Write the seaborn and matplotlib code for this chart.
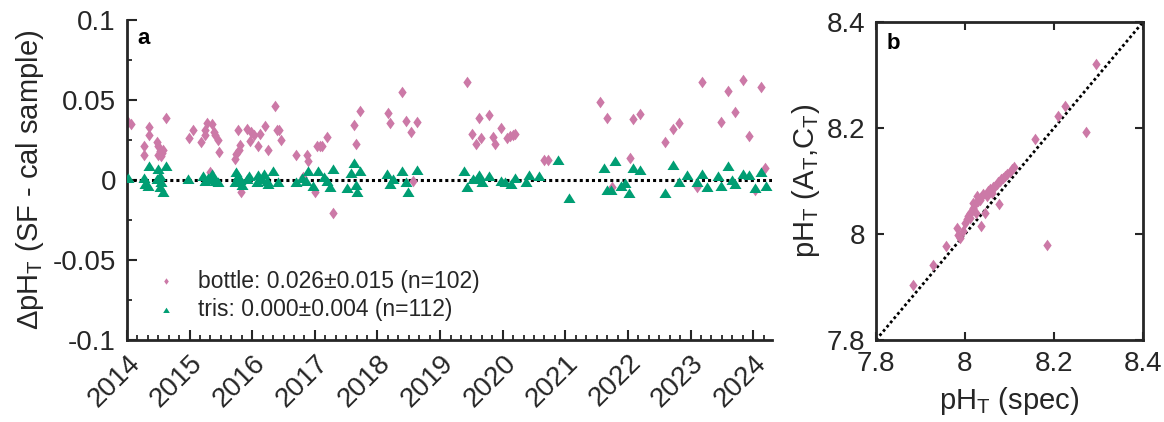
import numpy as np
import pandas as pd
import matplotlib
matplotlib.use("Agg")
import matplotlib.pyplot as plt
from matplotlib.ticker import MultipleLocator, FixedLocator
import seaborn as sns

# ---------------- data ----------------
bottle_year = [2014.010, 2014.061, 2014.264, 2014.274, 2014.345, 2014.356, 2014.478, 2014.498,
               2014.528, 2014.500, 2014.559, 2014.579, 2014.538, 2014.620, 2014.996, 2015.057,
               2015.189, 2015.240, 2015.250, 2015.270, 2015.361, 2015.382, 2015.402, 2015.453,
               2015.473, 2015.321, 2015.717, 2015.748, 2015.788, 2015.808, 2015.778, 2015.819,
               2015.910, 2015.981, 2015.961, 2016.032, 2016.093, 2016.123, 2016.205, 2016.245,
               2016.357, 2016.388, 2016.428, 2016.459, 2016.692, 2016.875, 2016.885, 2016.814,
               2016.997, 2017.028, 2017.078, 2017.119, 2017.200, 2017.292,
               2017.627, 2017.658, 2017.719, 2018.166, 2018.206, 2018.399, 2018.460, 2018.531,
               2018.633, 2018.562, 2019.436, 2019.517, 2019.578, 2019.629, 2019.659, 2019.781,
               2019.842, 2019.883, 2019.974, 2020.066, 2020.116, 2020.157, 2020.198, 2020.655,
               2020.726,
               2021.559, 2021.661, 2022.037, 2021.742, 2022.077, 2022.189, 2022.595, 2022.727,
               2022.809, 2023.185, 2023.103, 2023.489, 2023.601, 2023.703, 2023.835, 2023.926,
               2024.119, 2024.028, 2024.190]
bottle_dph = [0.0365, 0.0350, 0.0210, 0.0156, 0.0330, 0.0280, 0.0235, 0.0210,
              0.0180, 0.0156, 0.0170, 0.0190, 0.0150, 0.0390, 0.0260, 0.0310,
              0.0240, 0.0280, 0.0310, 0.0356, 0.0350, 0.0300, 0.0280, 0.0250,
              0.0177, 0.0052, 0.0130, 0.0160, 0.0190, 0.0220, 0.0310, -0.0077,
              0.0320, 0.0300, 0.0246, 0.0280, 0.0215, 0.0290, 0.0340, 0.0190,
              0.0460, 0.0310, 0.0315, 0.0250, 0.0156, 0.0156, 0.0120, 0.0017,
              -0.0077, 0.0210, 0.0210, 0.0210, 0.0270, -0.0206,
              0.0344, 0.0225, 0.0433, 0.0419, 0.0354, 0.0552, 0.0367, 0.0298,
              0.0360, -0.0004, 0.0615, 0.0288, 0.0225, 0.0385, 0.0260, 0.0406,
              0.0267, 0.0225, 0.0323, 0.0260, 0.0273, 0.0280, 0.0290, 0.0127,
              0.0127,
              0.0490, 0.0385, 0.0138, -0.0046, 0.0381, 0.0413, 0.0235, 0.0319,
              0.0356, 0.0615, -0.0046, 0.0360, 0.0558, 0.0423, 0.0627, 0.0273,
              0.0579, -0.0060, 0.0073]

tris_year = [2014.020, 2014.264, 2014.284, 2014.335, 2014.345, 2014.478, 2014.498, 2014.528,
             2014.538, 2014.528, 2014.579, 2014.620, 2014.975, 2015.219, 2015.250, 2015.290,
             2015.361, 2015.382, 2015.412, 2015.453, 2015.748, 2015.778, 2015.727, 2015.808,
             2015.829, 2015.910, 2015.951, 2016.073, 2016.093, 2016.154, 2016.195, 2016.235,
             2016.256, 2016.337, 2016.418, 2016.692, 2016.794, 2016.855, 2016.896, 2016.977,
             2017.048, 2017.139, 2017.190, 2017.241, 2017.292,
             2017.515, 2017.576, 2017.627, 2017.658, 2017.668, 2017.719, 2018.155, 2018.206,
             2018.247, 2018.399, 2018.460, 2018.491, 2018.633, 2019.375, 2019.425, 2019.527,
             2019.588, 2019.629, 2019.669, 2019.781, 2019.974, 2020.035, 2020.126, 2020.198,
             2020.370, 2020.421, 2020.584, 2020.878,
             2021.061, 2021.620, 2021.793, 2021.661, 2021.732, 2021.884, 2021.955, 2022.016,
             2022.077, 2022.189, 2022.595, 2022.717, 2022.809, 2022.941, 2023.103, 2023.185,
             2023.266, 2023.439, 2023.489, 2023.601, 2023.662, 2023.713, 2023.835, 2023.926,
             2024.028, 2024.119, 2024.201]
tris_dph = [0.0010, 0.0010, -0.0025, -0.0035, 0.0090, 0.0006, 0.0069, 0.0027,
            -0.0015, -0.0046, -0.0077, 0.0090, 0.0006, 0.0027, -0.0004, 0.0010,
            0.0037, 0.0006, -0.0004, -0.0015, 0.0052, 0.0027, -0.0015, 0.0002,
            -0.0031, 0.0006, 0.0023, -0.0015, 0.0031, 0.0006, 0.0035, -0.0004,
            -0.0025, 0.0058, -0.0010, -0.0015, 0.0010, -0.0004, 0.0054, -0.0035,
            0.0058, 0.0017, -0.0004, -0.0046, 0.0069,
            -0.0052, 0.0044, 0.0106, -0.0031, -0.0073, 0.0058, 0.0037, -0.0025,
            0.0006, 0.0054, -0.0015, -0.0077, 0.0065, 0.0058, -0.0046, 0.0006,
            0.0006, 0.0031, -0.0015, 0.0027, -0.0004, -0.0010, -0.0025, 0.0010,
            -0.0015, 0.0031, 0.0027, 0.0127,
            -0.0115, 0.0073, 0.0121, -0.0060, -0.0060, -0.0040, -0.0019, -0.0083,
            0.0073, 0.0065, -0.0081, 0.0094, -0.0010, 0.0031, -0.0010, 0.0037,
            -0.0046, 0.0023, -0.0035, 0.0085, 0.0002, -0.0025, 0.0037, 0.0031,
            -0.0052, 0.0048, -0.0040]

spec_ph = [7.884, 7.929, 7.957, 7.981, 7.985, 7.989, 7.995, 8.000, 8.004, 8.007,
           8.011, 8.011, 8.015, 8.019, 8.019, 8.022, 8.025, 8.026, 8.030, 8.034,
           8.035, 8.037, 8.041, 8.045, 8.049, 8.052, 8.056, 8.060, 8.064, 8.067,
           8.071, 8.075, 8.076, 8.079, 8.082, 8.086, 8.090, 8.094, 8.100, 8.105,
           8.109, 8.157, 8.184, 8.210, 8.225, 8.272, 8.294]
calc_ph = [7.903, 7.941, 7.977, 8.012, 7.999, 7.993, 8.005, 8.021, 8.028, 8.034,
           8.040, 8.031, 8.043, 8.050, 8.059, 8.056, 8.040, 8.072, 8.062, 8.065,
           8.015, 8.069, 8.075, 8.040, 8.072, 8.081, 8.084, 8.078, 8.088, 8.091,
           8.094, 8.098, 8.057, 8.100, 8.103, 8.106, 8.110, 8.113, 8.117, 8.122,
           8.127, 8.180, 7.979, 8.223, 8.241, 8.193, 8.320]

year_ticks = list(range(2014, 2025))
dph_ticks = [-0.1, -0.05, 0, 0.05, 0.1]
dph_tick_labels = ["-0.1", "-0.05", "0", "0.05", "0.1"]
ph_ticks = [7.8, 8.0, 8.2, 8.4]
ph_tick_labels = ["7.8", "8", "8.2", "8.4"]
bottle_label = "bottle: 0.026\u00b10.015 (n=102)"
tris_label = "tris: 0.000\u00b10.004 (n=112)"

# ---------------- style ----------------
sns.set_theme(style="white")
FONT = ["Liberation Sans", "DejaVu Sans"]
plt.rcParams["font.family"] = FONT
plt.rcParams["mathtext.fontset"] = "custom"
plt.rcParams["mathtext.rm"] = "Liberation Sans"
plt.rcParams["mathtext.it"] = "Liberation Sans:italic"
plt.rcParams["mathtext.bf"] = "Liberation Sans:bold"
TXT = "#262626"
plt.rcParams["text.color"] = TXT
plt.rcParams["axes.labelcolor"] = TXT
plt.rcParams["xtick.color"] = TXT
plt.rcParams["ytick.color"] = TXT
plt.rcParams["axes.edgecolor"] = TXT

PINK = "#CC79A7"
GREEN = "#009E73"
DIAMOND = [(0, 1), (0.72, 0), (0, -1), (-0.72, 0), (0, 1)]
TRIANGLE = [(-1, -0.75), (1, -0.75), (0, 0.85), (-1, -0.75)]
TICK_FS = 20
LAB_FS = 21

fig = plt.figure(figsize=(11.64, 4.22), dpi=100)
W, H = 1164, 422
ax_a = fig.add_axes([127 / W, 1 - 340 / H, (772 - 127) / W, (340 - 20) / H])
ax_b = fig.add_axes([876 / W, 1 - 340 / H, (1143 - 876) / W, (340 - 22) / H])

df_b = pd.DataFrame({"year": bottle_year, "dph": bottle_dph})
df_t = pd.DataFrame({"year": tris_year, "dph": tris_dph})

# ---------------- panel a ----------------
ax_a.axhline(0, color="black", linestyle=(0, (1, 1)), linewidth=2.2, zorder=1)
sns.scatterplot(data=df_b, x="year", y="dph", ax=ax_a, color=PINK, marker=DIAMOND,
                s=70, linewidth=0, label=bottle_label, zorder=2)
sns.scatterplot(data=df_t, x="year", y="dph", ax=ax_a, color=GREEN, marker=TRIANGLE,
                s=75, linewidth=0, label=tris_label, zorder=3)
ax_a.set_xlim(2014, 2024.3)
ax_a.set_ylim(-0.1, 0.1)
ax_a.xaxis.set_major_locator(FixedLocator(year_ticks))
ax_a.set_xticklabels([str(y) for y in year_ticks], rotation=45, ha="right",
                     rotation_mode="anchor")
ax_a.xaxis.set_minor_locator(MultipleLocator(1 / 6))
ax_a.set_yticks(dph_ticks)
ax_a.set_yticklabels(dph_tick_labels)
ax_a.yaxis.set_minor_locator(MultipleLocator(0.025))
ax_a.set_xlabel("")
ax_a.set_ylabel("\u0394pH$_\\mathregular{T}$ (SF - cal sample)", fontsize=LAB_FS, labelpad=5)
for s in ["top", "right"]:
    ax_a.spines[s].set_visible(False)
for s in ["left", "bottom"]:
    ax_a.spines[s].set_linewidth(2.0)
ax_a.tick_params(which="major", direction="in", length=7, width=1.5, labelsize=TICK_FS,
                 left=True, bottom=True)
ax_a.tick_params(axis="y", which="major", pad=8)
ax_a.tick_params(axis="x", which="major", pad=7)
ax_a.tick_params(which="minor", direction="in", length=3.5, width=1.3, left=True, bottom=True)
ax_a.text(0.016, 0.975, "a", transform=ax_a.transAxes, fontsize=16, fontweight="bold",
          ha="left", va="top", color="black")
leg = ax_a.legend(loc="lower left", bbox_to_anchor=(0.01, 0.03), frameon=False,
                  fontsize=16.5, handletextpad=0.4, labelspacing=0.25, markerscale=0.55,
                  borderaxespad=0)

# ---------------- panel b ----------------
df_ph = pd.DataFrame({"spec": spec_ph, "calc": calc_ph})
ax_b.axline((ph_ticks[0], ph_ticks[0]), slope=1, color="black", linestyle=(0, (1, 1)),
            linewidth=2.0, zorder=1)
sns.scatterplot(data=df_ph, x="spec", y="calc", ax=ax_b, color=PINK, marker=DIAMOND,
                s=70, linewidth=0, zorder=2)
ax_b.set_xlim(ph_ticks[0], ph_ticks[-1])
ax_b.set_ylim(ph_ticks[0], ph_ticks[-1])
ax_b.set_xticks(ph_ticks)
ax_b.set_xticklabels(ph_tick_labels)
ax_b.set_yticks(ph_ticks)
ax_b.set_yticklabels(ph_tick_labels)
ax_b.set_xlabel("pH$_\\mathregular{T}$ (spec)", fontsize=LAB_FS, labelpad=6)
ax_b.set_ylabel("pH$_\\mathregular{T}$ (A$_\\mathregular{T}$,C$_\\mathregular{T}$)",
                fontsize=LAB_FS, labelpad=3)
for s in ax_b.spines.values():
    s.set_linewidth(2.0)
    s.set_visible(True)
ax_b.tick_params(which="major", direction="in", length=6, width=1.5, labelsize=TICK_FS,
                 left=True, bottom=True, right=True, top=True, pad=8)
ax_b.text(0.04, 0.965, "b", transform=ax_b.transAxes, fontsize=16, fontweight="bold",
          ha="left", va="top", color="black")

fig.savefig("out.png", dpi=100)
